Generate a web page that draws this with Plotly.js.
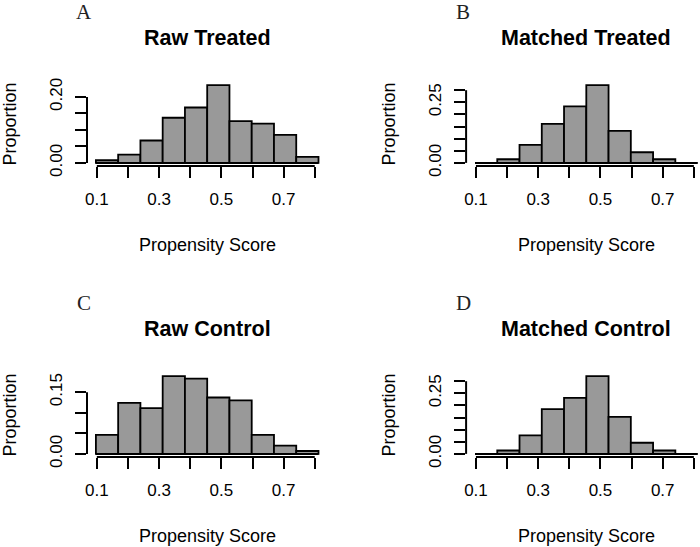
<!DOCTYPE html>
<html><head><meta charset="utf-8">
<script src="https://cdn.plot.ly/plotly-3.0.1.min.js"></script>
<style>html,body{margin:0;padding:0;background:#fff}#chart{width:700px;height:547px}</style>
</head><body><div id="chart"></div>
<script>
// ---- data ----
const binEdges = [0.097, 0.1685, 0.240, 0.3115, 0.383, 0.4545, 0.526, 0.5975, 0.669, 0.7405, 0.812];
const rawTreated     = [0.008, 0.025, 0.068, 0.137, 0.168, 0.236, 0.127, 0.119, 0.085, 0.018];
const matchedTreated = [0.000, 0.015, 0.074, 0.161, 0.233, 0.321, 0.132, 0.044, 0.015, 0.000];
const rawControl     = [0.046, 0.124, 0.111, 0.189, 0.183, 0.137, 0.130, 0.046, 0.020, 0.007];
const matchedControl = [0.000, 0.014, 0.076, 0.185, 0.231, 0.321, 0.153, 0.046, 0.014, 0.000];
const panelTitles  = ['Raw Treated', 'Matched Treated', 'Raw Control', 'Matched Control'];
const panelLetters = ['A', 'B', 'C', 'D'];
const xTickVals   = [0.1, 0.2, 0.3, 0.4, 0.5, 0.6, 0.7, 0.8];
const xTickLabels = ['0.1', '', '0.3', '', '0.5', '', '0.7', ''];
const yTickStep = 0.05;
const yTickTops = [0.20, 0.30, 0.15, 0.30];
const yLabeledA = ['0.00', '0.20'];
const yLabeledB = ['0.00', '0.25'];
const yLabeledC = ['0.00', '0.15'];
const yLabeledD = ['0.00', '0.25'];
const xTitle = 'Propensity Score';
const yTitle = 'Proportion';

// ---- layout geometry (pixels) ----
const W = 700, H = 547;
const colLeft = [87, 466.1], plotW = 240.4;
const rowTop = [82, 373], plotH = 84;
const seriesList = [rawTreated, matchedTreated, rawControl, matchedControl];
const yLabeledList = [yLabeledA, yLabeledB, yLabeledC, yLabeledD];
const sans = 'Liberation Sans, Arial, Helvetica, sans-serif';
const serif = 'Liberation Serif, Times New Roman, serif';
const px = v => v / W, py = v => 1 - v / H;

const traces = [], shapes = [], annotations = [];
const layout = {
  width: W, height: H, margin: {l: 0, r: 0, t: 0, b: 0},
  paper_bgcolor: '#fff', plot_bgcolor: 'rgba(0,0,0,0)',
  showlegend: false, hovermode: false, bargap: 0
};

const centers = binEdges.slice(0, -1).map((e, i) => (e + binEdges[i + 1]) / 2);
const widths = binEdges.slice(0, -1).map((e, i) => binEdges[i + 1] - e);

seriesList.forEach((vals, i) => {
  const row = Math.floor(i / 2), col = i % 2;
  const sfx = i === 0 ? '' : String(i + 1);
  const xa = 'x' + sfx, ya = 'y' + sfx;
  // R-style 4% extension
  const span = binEdges[binEdges.length - 1] - binEdges[0];
  let u0 = binEdges[0] - 0.04 * span, u1 = binEdges[binEdges.length - 1] + 0.04 * span;
  let left = colLeft[col], right = left + plotW;
  if (right > W) { u1 = u0 + (W - left) / plotW * (u1 - u0); right = W; }
  const ymax = Math.max(...vals);
  const yr = [-0.04 * ymax, 1.04 * ymax];
  const top = rowTop[row], bottom = top + plotH;

  traces.push({
    type: 'bar', x: centers, y: vals, width: widths, xaxis: xa, yaxis: ya,
    marker: {color: '#999999', line: {color: '#000', width: 1.8}}
  });

  const yVals = [];
  for (let k = 0; k * yTickStep <= yTickTops[i] + 1e-9; k++) yVals.push(+(k * yTickStep).toFixed(2));
  const yText = yVals.map(v => yLabeledList[i].includes(v.toFixed(2)) ? v.toFixed(2) : '');

  layout['xaxis' + sfx] = {
    domain: [px(left), px(right)], range: [u0, u1], anchor: ya,
    showgrid: false, zeroline: false, showline: false,
    ticks: 'outside', ticklen: 11, tickwidth: 2, tickcolor: '#000',
    tickmode: 'array', tickvals: xTickVals, ticktext: xTickLabels,
    tickfont: {family: sans, size: 17, color: '#000'}, ticklabelstandoff: 7,
    fixedrange: true
  };
  layout['yaxis' + sfx] = {
    domain: [py(bottom), py(top)], range: yr, anchor: xa,
    showgrid: false, zeroline: false, showline: false,
    ticks: 'outside', ticklen: 11, tickwidth: 2, tickcolor: '#000',
    tickmode: 'array', tickvals: yVals, ticktext: yText, tickangle: -90,
    tickfont: {family: sans, size: 17, color: '#000'}, ticklabelstandoff: 6,
    fixedrange: true
  };
  // axis lines spanning the tick range only (R style)
  shapes.push({type: 'line', xref: xa, yref: 'paper',
    x0: xTickVals[0], x1: xTickVals[xTickVals.length - 1], y0: py(bottom), y1: py(bottom),
    line: {color: '#000', width: 2}});
  shapes.push({type: 'line', xref: 'paper', yref: ya,
    x0: px(left), x1: px(left), y0: yVals[0], y1: yVals[yVals.length - 1],
    line: {color: '#000', width: 2}});
  // baseline of histogram
  shapes.push({type: 'line', xref: xa, yref: ya,
    x0: binEdges[0], x1: binEdges[binEdges.length - 1], y0: 0, y1: 0,
    line: {color: '#000', width: 2}});

  const cx = colLeft[col] + plotW / 2;
  annotations.push({text: '<b>' + panelTitles[i] + '</b>', xref: 'paper', yref: 'paper',
    x: px(cx), y: py(top - 44), xanchor: 'center', yanchor: 'middle', showarrow: false,
    font: {family: sans, size: 21.5, color: '#000'}});
  annotations.push({text: xTitle, xref: 'paper', yref: 'paper',
    x: px(cx), y: py(bottom + 79), xanchor: 'center', yanchor: 'middle', showarrow: false,
    font: {family: sans, size: 18, color: '#000'}});
  annotations.push({text: yTitle, xref: 'paper', yref: 'paper', textangle: -90,
    x: px(left - 77.5), y: py(top + plotH / 2), xanchor: 'center', yanchor: 'middle', showarrow: false,
    font: {family: sans, size: 18, color: '#000'}});
  annotations.push({text: panelLetters[i], xref: 'paper', yref: 'paper',
    x: px(left - 3), y: py(top - 70), xanchor: 'center', yanchor: 'middle', showarrow: false,
    font: {family: serif, size: 21, color: '#222'}});
});

layout.shapes = shapes;
layout.annotations = annotations;
Plotly.newPlot('chart', traces, layout, {displayModeBar: false, staticPlot: true});
</script>
</body></html>
